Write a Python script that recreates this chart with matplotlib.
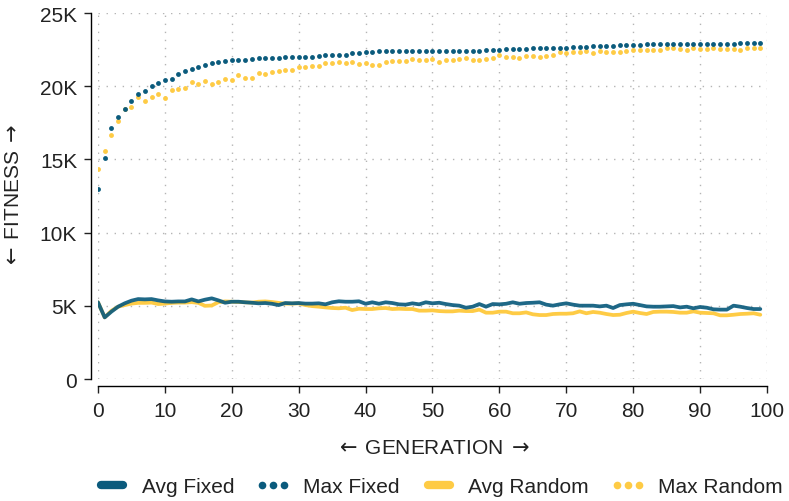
import matplotlib
matplotlib.use('Agg')
import matplotlib.pyplot as plt
from matplotlib.lines import Line2D
from matplotlib.ticker import FuncFormatter, MultipleLocator
import numpy as np

plt.rcParams['font.family'] = ['Liberation Sans', 'DejaVu Sans']

# data (one value per generation, 0..99)
generations = list(range(100))

avg_fixed = [5240, 4210, 4600, 4940, 5170, 5350, 5460, 5440, 5460, 5370,
             5300, 5280, 5300, 5300, 5440, 5300, 5420, 5510, 5370, 5210,
             5280, 5280, 5240, 5210, 5170, 5190, 5140, 5050, 5190, 5170,
             5190, 5150, 5150, 5170, 5100, 5240, 5310, 5280, 5280, 5310,
             5140, 5240, 5140, 5240, 5190, 5100, 5080, 5170, 5100, 5240,
             5170, 5210, 5120, 5050, 5010, 4870, 4940, 5120, 4940, 5120,
             5100, 5140, 5240, 5140, 5190, 5210, 5240, 5080, 5010, 5100,
             5170, 5080, 5010, 5010, 5010, 4960, 5010, 4850, 5050, 5100,
             5140, 5050, 4960, 4940, 4940, 4960, 4980, 4890, 4940, 4830,
             4920, 4870, 4760, 4740, 4740, 5010, 4940, 4850, 4780, 4780]

max_fixed = [12960, 15070, 17120, 17900, 18420, 18990, 19490, 19690, 19990, 20220,
             20420, 20490, 20850, 21010, 21170, 21310, 21450, 21560, 21670, 21700,
             21770, 21790, 21790, 21830, 21900, 21950, 21950, 21950, 21970, 21970,
             22020, 22020, 22020, 22040, 22110, 22110, 22150, 22150, 22240, 22290,
             22360, 22360, 22380, 22380, 22380, 22380, 22380, 22380, 22380, 22380,
             22400, 22410, 22410, 22410, 22410, 22410, 22410, 22410, 22470, 22470,
             22500, 22540, 22540, 22560, 22560, 22590, 22590, 22590, 22590, 22610,
             22610, 22650, 22650, 22700, 22720, 22720, 22720, 22740, 22810, 22810,
             22830, 22830, 22860, 22860, 22860, 22860, 22880, 22880, 22880, 22880,
             22880, 22880, 22880, 22880, 22880, 22880, 22950, 22950, 22950, 22950]

avg_random = [5240, 4210, 4660, 4940, 5050, 5150, 5200, 5200, 5220, 5120,
              5150, 5200, 5220, 5220, 5250, 5200, 5000, 5020, 5250, 5300,
              5280, 5260, 5240, 5220, 5280, 5300, 5260, 5200, 5150, 5150,
              5170, 5050, 4980, 4940, 4890, 4850, 4830, 4870, 4710, 4800,
              4780, 4780, 4830, 4850, 4780, 4800, 4780, 4780, 4670, 4670,
              4690, 4640, 4620, 4620, 4670, 4640, 4640, 4740, 4530, 4530,
              4600, 4600, 4490, 4490, 4550, 4420, 4370, 4370, 4440, 4460,
              4460, 4490, 4620, 4490, 4580, 4530, 4440, 4370, 4390, 4510,
              4600, 4510, 4440, 4580, 4600, 4600, 4580, 4530, 4530, 4620,
              4530, 4510, 4490, 4350, 4350, 4390, 4440, 4460, 4490, 4390]

max_random = [14370, 15600, 16670, 17600, 18440, 18560, 19280, 18990, 19240, 19470,
              19190, 19760, 19810, 19880, 20290, 20150, 20330, 20170, 20310, 20490,
              20400, 20770, 20580, 20580, 20880, 20810, 20970, 21040, 21110, 21090,
              21290, 21310, 21380, 21380, 21560, 21560, 21650, 21580, 21650, 21540,
              21580, 21470, 21470, 21650, 21700, 21740, 21700, 21860, 21770, 21790,
              21880, 21670, 21770, 21810, 21840, 21900, 21810, 21810, 21860, 21930,
              22130, 21990, 21990, 21950, 22060, 22060, 22020, 22070, 22130, 22340,
              22290, 22360, 22340, 22380, 22240, 22400, 22360, 22340, 22310, 22400,
              22450, 22470, 22450, 22450, 22500, 22590, 22610, 22520, 22500, 22590,
              22560, 22560, 22610, 22540, 22560, 22560, 22470, 22590, 22590, 22610]

BLUE = '#0b5b7d'
YELLOW = '#fecb45'

fig = plt.figure(figsize=(7.89, 5.02), dpi=100)
ax = fig.add_axes([0.1242, 0.2430, 0.8479, 0.7291])

# random series first so the fixed ones sit on top
ax.plot(generations, avg_random, color=YELLOW, lw=2.7, solid_capstyle='round', zorder=3)
ax.plot(generations, max_random, color=YELLOW, ls='none', marker='o', ms=3.5, mew=0, zorder=3)
ax.plot(generations, avg_fixed, color=BLUE, lw=2.7, alpha=0.92, solid_capstyle='round', zorder=4)
ax.plot(generations, max_fixed, color=BLUE, ls='none', marker='o', ms=3.5, mew=0, zorder=4)

ax.set_xlim(0, 100)
ax.set_ylim(0, 25000)
ax.xaxis.set_major_locator(MultipleLocator(10))
ax.yaxis.set_major_locator(MultipleLocator(5000))
ax.yaxis.set_major_formatter(FuncFormatter(lambda v, p: '0' if v == 0 else f'{v/1000:.0f}K'))

ax.grid(True, color='#b5b5b5', lw=1.0, ls=(0, (1, 4.8)))
ax.set_axisbelow(True)

for s in ['top', 'right']:
    ax.spines[s].set_visible(False)
for s in ['left', 'bottom']:
    ax.spines[s].set_position(('outward', 5))
    ax.spines[s].set_linewidth(1.0)

ax.tick_params(labelsize=15, length=5, width=1.0, pad=5, colors='#222222')
ax.tick_params(axis='x', pad=6)

# arrows from mathtext (long thin arrows like the original), thin spaces around the word
ax.set_xlabel(r'$\leftarrow$' + '\u2009GENERATION\u2009' + r'$\rightarrow$',
              fontsize=15, labelpad=13, color='#222222')
ax.set_ylabel(r'$\leftarrow$' + '\u2009FITNESS\u2009' + r'$\rightarrow$',
              fontsize=15, labelpad=12, color='#222222')

handles = [
    Line2D([], [], color=BLUE, lw=6, solid_capstyle='round'),
    Line2D([], [], color=BLUE, ls='none', marker='o', ms=5.5, mew=0),
    Line2D([], [], color=YELLOW, lw=6, solid_capstyle='round'),
    Line2D([], [], color=YELLOW, ls='none', marker='o', ms=5.5, mew=0),
]
labels = ['Avg Fixed', 'Max Fixed', 'Avg Random', 'Max Random']
leg = fig.legend(handles, labels, loc='center', bbox_to_anchor=(0.556, 0.028), ncol=4,
                 frameon=False, fontsize=15, handlelength=1.65, handletextpad=0.6,
                 columnspacing=1.05, numpoints=3)
for t in leg.get_texts():
    t.set_color('#222222')

fig.savefig('out.png', dpi=100)
